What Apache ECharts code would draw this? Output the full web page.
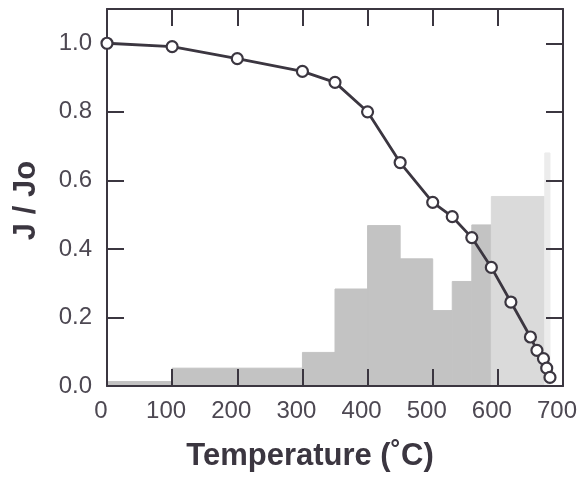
<!DOCTYPE html>
<html><head><meta charset="utf-8">
<script src="https://cdn.jsdelivr.net/npm/echarts@6/dist/echarts.min.js"></script>
<style>html,body{margin:0;padding:0;background:#fff}#c{width:583px;height:477px}</style>
</head><body><div id="c"></div>
<script>
// J/Jo vs temperature (line with open circles)
const temps = [0, 100, 200, 300, 350, 400, 450, 500, 530, 560, 590, 620, 650, 660, 670, 675, 680];
const ratio = [1.0, 0.99, 0.955, 0.918, 0.886, 0.80, 0.652, 0.536, 0.494, 0.433, 0.346, 0.245, 0.143, 0.104, 0.08, 0.052, 0.025];
// histogram (gray background bars)
const binStart  = [0, 100, 200, 300, 350, 400, 450, 500, 530, 560, 590, 672];
const binEnd    = [100, 200, 300, 350, 400, 450, 500, 530, 560, 590, 672, 680];
const binHeight = [0.013, 0.052, 0.052, 0.098, 0.283, 0.468, 0.371, 0.22, 0.305, 0.47, 0.553, 0.68];
const binShade  = [0, 0, 0, 0, 0, 0, 0, 0, 0, 0, 1, 2];
const yTicks = [0.0, 0.2, 0.4, 0.6, 0.8, 1.0];
const xTicks = [0, 100, 200, 300, 400, 500, 600, 700];

const shadeColors = ['#c3c3c3', '#dadada', '#ececec'];
const ink = '#3b3640';
const txt = '#4d4852';
const font = 'Liberation Sans, Arial, Helvetica, sans-serif';

const chart = echarts.init(document.getElementById('c'));
const lineData = temps.map((t, i) => [t, ratio[i]]);
const binData = binStart.map((s, i) => [s, binEnd[i], binHeight[i], binShade[i]]);

const baseX = {
  type: 'value', min: 0, max: 700, interval: 100, z: 3,
  axisLine: {show: true, onZero: false, lineStyle: {color: ink, width: 2}},
  axisTick: {show: true, inside: true, length: 17, lineStyle: {color: ink, width: 2}},
  splitLine: {show: false}
};
const baseY = {
  type: 'value', min: 0, max: 1.1, interval: 0.2, z: 3,
  axisLine: {show: true, onZero: false, lineStyle: {color: ink, width: 2}},
  axisTick: {show: true, inside: true, length: 17, lineStyle: {color: ink, width: 2}},
  splitLine: {show: false}
};

chart.setOption({
  animation: false,
  backgroundColor: '#fff',
  grid: {left: 107, right: 20, top: 9, bottom: 88},
  xAxis: [
    Object.assign({}, baseX, {
      position: 'bottom',
      name: 'Temperature (˚C)', nameLocation: 'middle', nameGap: 55,
      nameTextStyle: {fontFamily: font, fontWeight: 'bold', fontSize: 31, color: ink, padding: [0, 50, 0, 0]},
      axisLabel: {
        show: true, margin: 13, fontFamily: font, fontSize: 24, color: txt,
        padding: [0, 12, 0, 0],
        formatter: v => xTicks.indexOf(v) >= 0 ? String(v) : ''
      }
    }),
    Object.assign({}, baseX, {position: 'top', axisLabel: {show: false}})
  ],
  yAxis: [
    Object.assign({}, baseY, {
      position: 'left',
      name: 'J / Jo', nameLocation: 'middle', nameGap: 65, nameRotate: 90,
      nameTextStyle: {fontFamily: font, fontWeight: 'bold', fontSize: 31, color: ink, padding: [0, 6, 0, 0]},
      axisLabel: {
        show: true, margin: 15, fontFamily: font, fontSize: 24, color: txt,
        formatter: v => {
          const t = yTicks.find(k => Math.abs(k - v) < 1e-6);
          return t === undefined ? '' : t.toFixed(1);
        }
      }
    }),
    Object.assign({}, baseY, {position: 'right', axisLabel: {show: false}})
  ],
  series: [
    {
      type: 'custom', z: 1, xAxisIndex: 0, yAxisIndex: 0,
      encode: {x: [0, 1], y: 2},
      data: binData,
      renderItem: (params, api) => {
        const p0 = api.coord([api.value(0), api.value(2)]);
        const p1 = api.coord([api.value(1), 0]);
        const c = shadeColors[api.value(3)];
        return {
          type: 'rect',
          shape: {x: p0[0], y: p0[1], width: p1[0] - p0[0], height: p1[1] - p0[1]},
          style: {fill: c, stroke: c, lineWidth: 1}
        };
      }
    },
    {
      type: 'line', z: 5, xAxisIndex: 0, yAxisIndex: 0,
      data: lineData,
      symbol: 'circle', symbolSize: 11,
      lineStyle: {color: ink, width: 2.8},
      itemStyle: {color: '#fff', borderColor: ink, borderWidth: 2.2},
      emphasis: {disabled: true}
    }
  ]
});
</script></body></html>
